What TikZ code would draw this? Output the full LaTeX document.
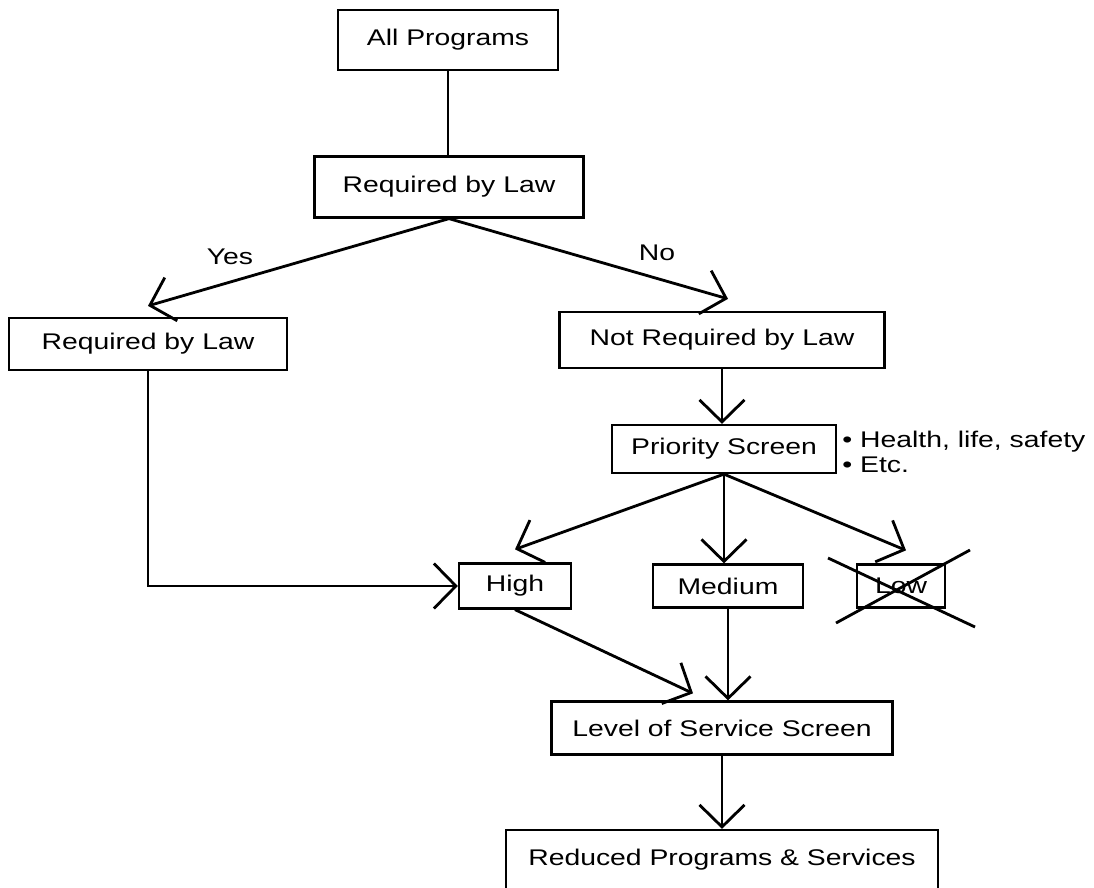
\documentclass[tikz,border=0pt]{standalone}
\usepackage{fontspec}
\setmainfont[FakeStretch=1.25]{Liberation Sans}
\usetikzlibrary{arrows.meta}

\begin{document}
\begin{tikzpicture}[x=0.02cm, y=-0.02cm,
    every node/.style={font=\fontsize{12.9}{15.2}\selectfont},
    box/.style={draw, line width=1.3pt, inner sep=0pt},
    arr/.style={line width=1.6pt, -{Straight Barb[length=4.4mm, width=9mm]}},
    lbl/.style={inner sep=0pt}]

    % 0. Keret
    \useasboundingbox (0,0) rectangle (1094,888);
    \clip (0,0) rectangle (1094,888);

    % 1. Dobozok
    \node[box, minimum width=4.4cm, minimum height=1.2cm] (all) at (448,40) {All Programs};
    \node[box, minimum width=5.38cm, minimum height=1.22cm] (reqtop) at (449,187) {Required by Law};
    \node[box, minimum width=5.56cm, minimum height=1.04cm] (reqleft) at (148,344) {Required by Law};
    \node[box, minimum width=6.5cm, minimum height=1.12cm] (notreq) at (722,340) {Not Required by Law};
    \node[box, minimum width=4.48cm, minimum height=0.96cm] (prio) at (724,449) {Priority Screen};
    \node[box, minimum width=2.24cm, minimum height=0.9cm] (high) at (515,586) {High};
    \node[box, minimum width=3.0cm, minimum height=0.86cm] (medium) at (728,586) {Medium};
    \node[box, minimum width=1.76cm, minimum height=0.86cm] (low) at (901,586) {Low};
    \node[box, minimum width=6.82cm, minimum height=1.06cm] (level) at (722,728) {Level of Service Screen};
    \node[box, minimum width=8.64cm, minimum height=1.2cm] (reduced) at (722,860) {Reduced Programs \& Services};

    % 2. Feliratok
    \node[lbl] (yes) at (230,257) {Yes};
    \node[lbl] (no) at (657,253) {No};
    \node[lbl, anchor=west, align=left, font=\fontsize{12.9}{14.2}\selectfont] (notes) at (842,452)
        {• Health, life, safety\\• Etc.};

    % 3. Nyilak
    \draw[line width=1.6pt] (all.south) -- (all.south |- reqtop.north);
    \draw[arr] (reqtop.south) -- ([yshift=0.22cm]reqleft.north);
    \draw[arr] (reqtop.south) -- ([shift={(6,-12)}]notreq.north);
    \draw[arr] (notreq.south) -- (notreq.south |- prio.north);
    \foreach \t/\dx in {high/0, low/5}
        \draw[arr] (prio.south) -- ([shift={(\dx,-13)}]\t.north);
    \draw[arr] (prio.south) -- (prio.south |- medium.north);
    \draw[arr] (reqleft.south) |- (high.west);
    \draw[arr] (high.south) -- ([shift={(-29,-7)}]level.north);
    \draw[arr] (medium.south) -- (medium.south |- level.north);
    \draw[arr] (level.south) -- (level.south |- reduced.north);

    % 4. Athuzas
    \draw[line width=1.6pt] ([shift={(-65,37)}]low.center) -- ([shift={(69,-36)}]low.center);
    \draw[line width=1.6pt] ([shift={(-73,-28)}]low.center) -- ([shift={(74,41)}]low.center);
\end{tikzpicture}
\end{document}
